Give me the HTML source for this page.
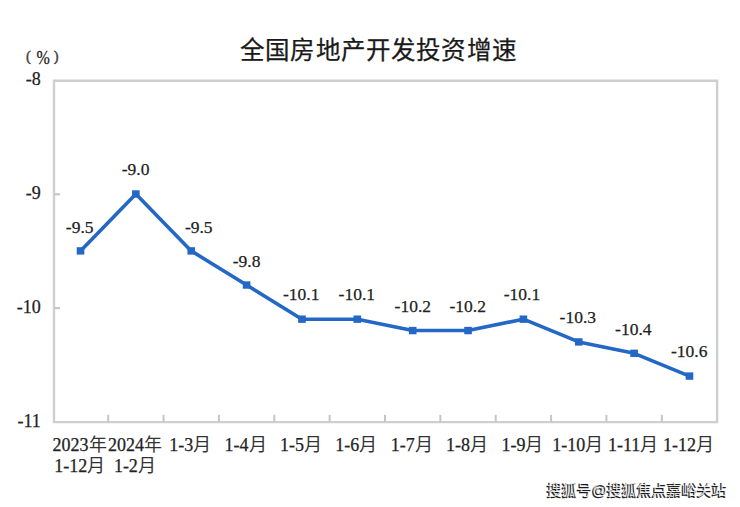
<!DOCTYPE html>
<html lang="zh-CN"><head><meta charset="utf-8">
<style>
html,body{margin:0;padding:0;background:#fff;width:740px;height:507px;overflow:hidden}
svg{display:block}
.n{font-family:"Liberation Serif",serif;font-size:18px;fill:#222;stroke:#222;stroke-width:0.25}
.pc{font-size:16px}
.d{font-size:17.5px}
.cj{fill:#333;stroke-width:0}
.pp{font-size:14.5px;stroke-width:0.45;fill:#444;stroke:#444}
.t{font-family:"Liberation Sans",sans-serif;font-size:24.5px;letter-spacing:1.15px;fill:#1a1a1a;stroke:#1a1a1a;stroke-width:0.25}
.w{font-family:"Liberation Sans",sans-serif;font-size:15px;fill:#fff;fill-opacity:0.85}
.ws{font-family:"Liberation Sans",sans-serif;font-size:15px;fill:#1a1a1a;stroke:#1a1a1a;stroke-width:0.5}
</style></head><body>
<svg width="740" height="507" viewBox="0 0 740 507">
<path d="M54 80.7 H717.1 V422.1 H54 Z" fill="none" stroke="#cfcfcf" stroke-width="2.4"/>
<line x1="108.20" y1="414.80" x2="108.20" y2="422.1" stroke="#c6c6c6" stroke-width="2"/>
<line x1="163.56" y1="414.80" x2="163.56" y2="422.1" stroke="#c6c6c6" stroke-width="2"/>
<line x1="218.92" y1="414.80" x2="218.92" y2="422.1" stroke="#c6c6c6" stroke-width="2"/>
<line x1="274.28" y1="414.80" x2="274.28" y2="422.1" stroke="#c6c6c6" stroke-width="2"/>
<line x1="329.64" y1="414.80" x2="329.64" y2="422.1" stroke="#c6c6c6" stroke-width="2"/>
<line x1="385.00" y1="414.80" x2="385.00" y2="422.1" stroke="#c6c6c6" stroke-width="2"/>
<line x1="440.36" y1="414.80" x2="440.36" y2="422.1" stroke="#c6c6c6" stroke-width="2"/>
<line x1="495.72" y1="414.80" x2="495.72" y2="422.1" stroke="#c6c6c6" stroke-width="2"/>
<line x1="551.08" y1="414.80" x2="551.08" y2="422.1" stroke="#c6c6c6" stroke-width="2"/>
<line x1="606.44" y1="414.80" x2="606.44" y2="422.1" stroke="#c6c6c6" stroke-width="2"/>
<line x1="661.80" y1="414.80" x2="661.80" y2="422.1" stroke="#c6c6c6" stroke-width="2"/>
<line x1="54" y1="194.30" x2="60" y2="194.30" stroke="#c6c6c6" stroke-width="2.1"/>
<line x1="54" y1="308.10" x2="60" y2="308.10" stroke="#c6c6c6" stroke-width="2.1"/>
<text x="40.8" y="85.3" text-anchor="end" class="n">-8</text>
<text x="40.8" y="198.9" text-anchor="end" class="n">-9</text>
<text x="40.8" y="313.3" text-anchor="end" class="n">-10</text>
<text x="40.8" y="426.8" text-anchor="end" class="n">-11</text>
<polyline points="80.52,250.90 135.88,194.00 191.24,250.90 246.60,285.04 301.96,319.18 357.32,319.18 412.68,330.56 468.04,330.56 523.40,319.18 578.76,341.94 634.12,353.32 689.48,376.08" fill="none" stroke="#2468c6" stroke-width="3.6" stroke-linejoin="round"/>
<rect x="76.72" y="247.20" width="7.6" height="7.4" fill="#2468c6"/>
<rect x="132.08" y="190.30" width="7.6" height="7.4" fill="#2468c6"/>
<rect x="187.44" y="247.20" width="7.6" height="7.4" fill="#2468c6"/>
<rect x="242.80" y="281.34" width="7.6" height="7.4" fill="#2468c6"/>
<rect x="298.16" y="315.48" width="7.6" height="7.4" fill="#2468c6"/>
<rect x="353.52" y="315.48" width="7.6" height="7.4" fill="#2468c6"/>
<rect x="408.88" y="326.86" width="7.6" height="7.4" fill="#2468c6"/>
<rect x="464.24" y="326.86" width="7.6" height="7.4" fill="#2468c6"/>
<rect x="519.60" y="315.48" width="7.6" height="7.4" fill="#2468c6"/>
<rect x="574.96" y="338.24" width="7.6" height="7.4" fill="#2468c6"/>
<rect x="630.32" y="349.62" width="7.6" height="7.4" fill="#2468c6"/>
<rect x="685.68" y="372.38" width="7.6" height="7.4" fill="#2468c6"/>
<text x="79.70" y="232.70" text-anchor="middle" class="n d">-9.5</text>
<text x="135.65" y="174.70" text-anchor="middle" class="n d">-9.0</text>
<text x="198.75" y="232.70" text-anchor="middle" class="n d">-9.5</text>
<text x="246.55" y="266.90" text-anchor="middle" class="n d">-9.8</text>
<text x="301.20" y="300.30" text-anchor="middle" class="n d">-10.1</text>
<text x="356.80" y="299.80" text-anchor="middle" class="n d">-10.1</text>
<text x="412.80" y="312.20" text-anchor="middle" class="n d">-10.2</text>
<text x="467.70" y="312.20" text-anchor="middle" class="n d">-10.2</text>
<text x="522.00" y="299.80" text-anchor="middle" class="n d">-10.1</text>
<text x="577.80" y="322.80" text-anchor="middle" class="n d">-10.3</text>
<text x="633.30" y="334.80" text-anchor="middle" class="n d">-10.4</text>
<text x="689.20" y="356.50" text-anchor="middle" class="n d">-10.6</text>
<text x="79.52" y="451" text-anchor="middle" class="n">2023<tspan class="cj">年</tspan></text>
<text x="134.88" y="451" text-anchor="middle" class="n">2024<tspan class="cj">年</tspan></text>
<text x="190.24" y="451" text-anchor="middle" class="n">1-3<tspan class="cj">月</tspan></text>
<text x="245.60" y="451" text-anchor="middle" class="n">1-4<tspan class="cj">月</tspan></text>
<text x="300.96" y="451" text-anchor="middle" class="n">1-5<tspan class="cj">月</tspan></text>
<text x="356.32" y="451" text-anchor="middle" class="n">1-6<tspan class="cj">月</tspan></text>
<text x="411.68" y="451" text-anchor="middle" class="n">1-7<tspan class="cj">月</tspan></text>
<text x="467.04" y="451" text-anchor="middle" class="n">1-8<tspan class="cj">月</tspan></text>
<text x="522.40" y="451" text-anchor="middle" class="n">1-9<tspan class="cj">月</tspan></text>
<text x="577.76" y="451" text-anchor="middle" class="n">1-10<tspan class="cj">月</tspan></text>
<text x="633.12" y="451" text-anchor="middle" class="n">1-11<tspan class="cj">月</tspan></text>
<text x="688.48" y="451" text-anchor="middle" class="n">1-12<tspan class="cj">月</tspan></text>
<text x="79.72" y="472" text-anchor="middle" class="n">1-12<tspan class="cj">月</tspan></text>
<text x="134.88" y="472" text-anchor="middle" class="n">1-2<tspan class="cj">月</tspan></text>
<text x="240.2" y="58.6" class="t">全国房地产开发投资增速</text>
<text x="26" y="61.2" class="n pp">(</text><text transform="translate(36.4 63.6) scale(1 1.12)" x="0" y="0" class="n pc">%</text><text x="53.8" y="61.2" class="n pp">)</text>
<text x="726.5" y="496.2" text-anchor="end" class="ws">搜狐号@搜狐焦点嘉峪关站</text><text x="727.5" y="495.2" text-anchor="end" class="w">搜狐号@搜狐焦点嘉峪关站</text>
</svg>
</body></html>
